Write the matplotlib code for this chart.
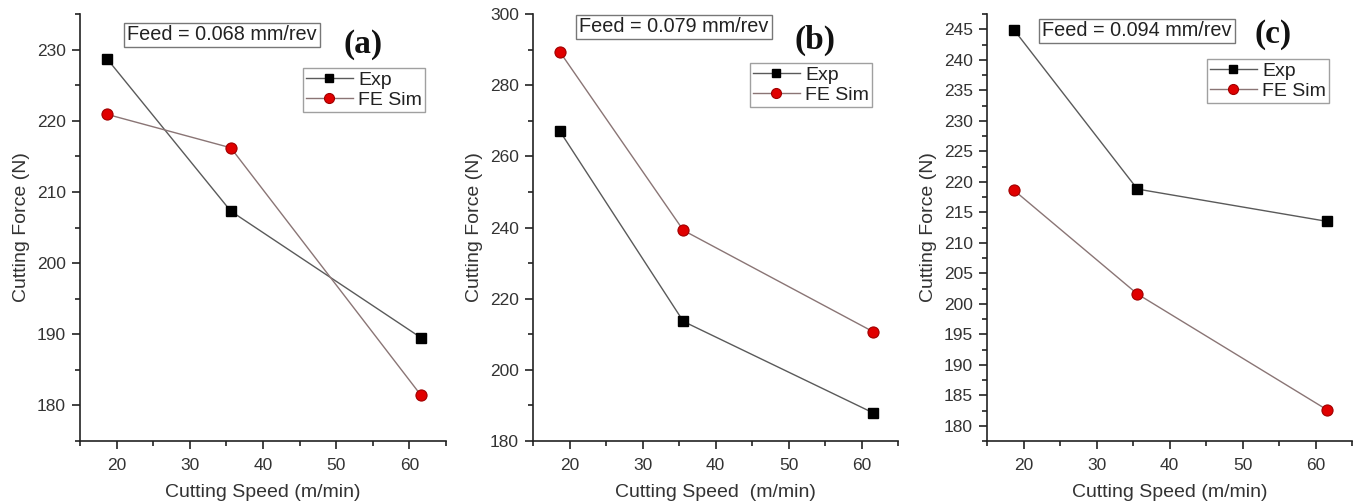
import matplotlib
matplotlib.use("Agg")
import matplotlib.pyplot as plt
from matplotlib.ticker import MultipleLocator

plt.rcParams['font.family'] = ['Liberation Sans', 'DejaVu Sans']

speed = [18.7, 35.6, 61.6]

exp_a = [228.7, 207.3, 189.5]
sim_a = [220.9, 216.2, 181.4]
exp_b = [267.0, 213.6, 187.9]
sim_b = [289.3, 239.2, 210.7]
exp_c = [244.9, 218.8, 213.5]
sim_c = [218.6, 201.6, 182.6]

feeds = ["Feed = 0.068 mm/rev", "Feed = 0.079 mm/rev", "Feed = 0.094 mm/rev"]
panel_labels = ["(a)", "(b)", "(c)"]
xlabels = ["Cutting Speed (m/min)", "Cutting Speed  (m/min)", "Cutting Speed (m/min)"]
ylabel = "Cutting Force (N)"
legend_labels = ["Exp", "FE Sim"]

W, H = 1360, 504
fig = plt.figure(figsize=(W / 100, H / 100), dpi=100)

# pixel layout
panels = [
    dict(l=80, r=446, exp=exp_a, sim=sim_a, ylim=(175, 235), major=10, minor=5,
         feed_xy=(222, 35), lab_xy=(363, 44), leg=(303, 68, 423, 117)),
    dict(l=533, r=898, exp=exp_b, sim=sim_b, ylim=(180, 300), major=20, minor=10,
         feed_xy=(674, 27), lab_xy=(815, 40), leg=(750, 63, 869, 111)),
    dict(l=987, r=1352, exp=exp_c, sim=sim_c, ylim=(177.5, 247.5), major=5, minor=2.5,
         feed_xy=(1137, 31), lab_xy=(1273, 34), leg=(1207, 59, 1327, 107)),
]
top, bottom = 14, 441

for i, p in enumerate(panels):
    ax = fig.add_axes([p['l'] / W, (H - bottom) / H, (p['r'] - p['l']) / W, (bottom - top) / H])
    ax.plot(speed, p['exp'], color='#5a5a5a', lw=1.0, marker='s', ms=7,
            mfc='black', mec='black', label=legend_labels[0], zorder=3)
    ax.plot(speed, p['sim'], color='#8a7575', lw=1.0, marker='o', ms=8,
            mfc='#e00000', mec='#a00000', mew=0.8, label=legend_labels[1], zorder=3)
    ax.set_xlim(15, 65)
    ax.set_ylim(*p['ylim'])
    ax.xaxis.set_major_locator(MultipleLocator(10))
    ax.xaxis.set_minor_locator(MultipleLocator(5))
    ax.yaxis.set_major_locator(MultipleLocator(p['major']))
    ax.yaxis.set_minor_locator(MultipleLocator(p['minor']))
    for s in ['top', 'right']:
        ax.spines[s].set_visible(False)
    for s in ['left', 'bottom']:
        ax.spines[s].set_linewidth(1.2)
        ax.spines[s].set_color('#222222')
    ax.tick_params(which='major', direction='out', length=6, width=1.2, labelsize=12.5,
                   colors='#222222', labelcolor='#333333', pad=4)
    ax.tick_params(which='minor', direction='out', length=3.5, width=1.2, colors='#222222')
    ax.tick_params(axis='x', which='major', pad=6)
    ax.set_xlabel(xlabels[i], fontsize=14, color='#333333', labelpad=8)
    ax.set_ylabel(ylabel, fontsize=14, color='#333333', labelpad=5)

    # feed text box
    fx, fy = p['feed_xy']
    fig.text(fx / W, (H - fy) / H, feeds[i], fontsize=14.3, ha='center', va='center',
             color='#222222',
             bbox=dict(boxstyle='square,pad=0.15', fc='white', ec='#777777', lw=1.0))
    # panel label
    lx, ly = p['lab_xy']
    fig.text(lx / W, (H - ly) / H, panel_labels[i], fontsize=24, fontweight='bold',
             family=['Liberation Serif', 'DejaVu Serif'], ha='center', va='center',
             color='#111111')
    # legend
    x0, y0, x1, y1 = p['leg']
    leg = ax.legend(loc='upper left',
                    bbox_to_anchor=((x0 - p['l']) / (p['r'] - p['l']),
                                    1 - (y0 - top) / (bottom - top)),
                    fontsize=14, frameon=True, fancybox=False, borderpad=0.15,
                    handlelength=2.4, handletextpad=0.3, labelspacing=0.15,
                    borderaxespad=0, markerscale=0.9)
    leg.get_frame().set_edgecolor('#888888')
    leg.get_frame().set_linewidth(1.0)
    for t in leg.get_texts():
        t.set_color('#222222')

fig.savefig('out.png', dpi=100)
